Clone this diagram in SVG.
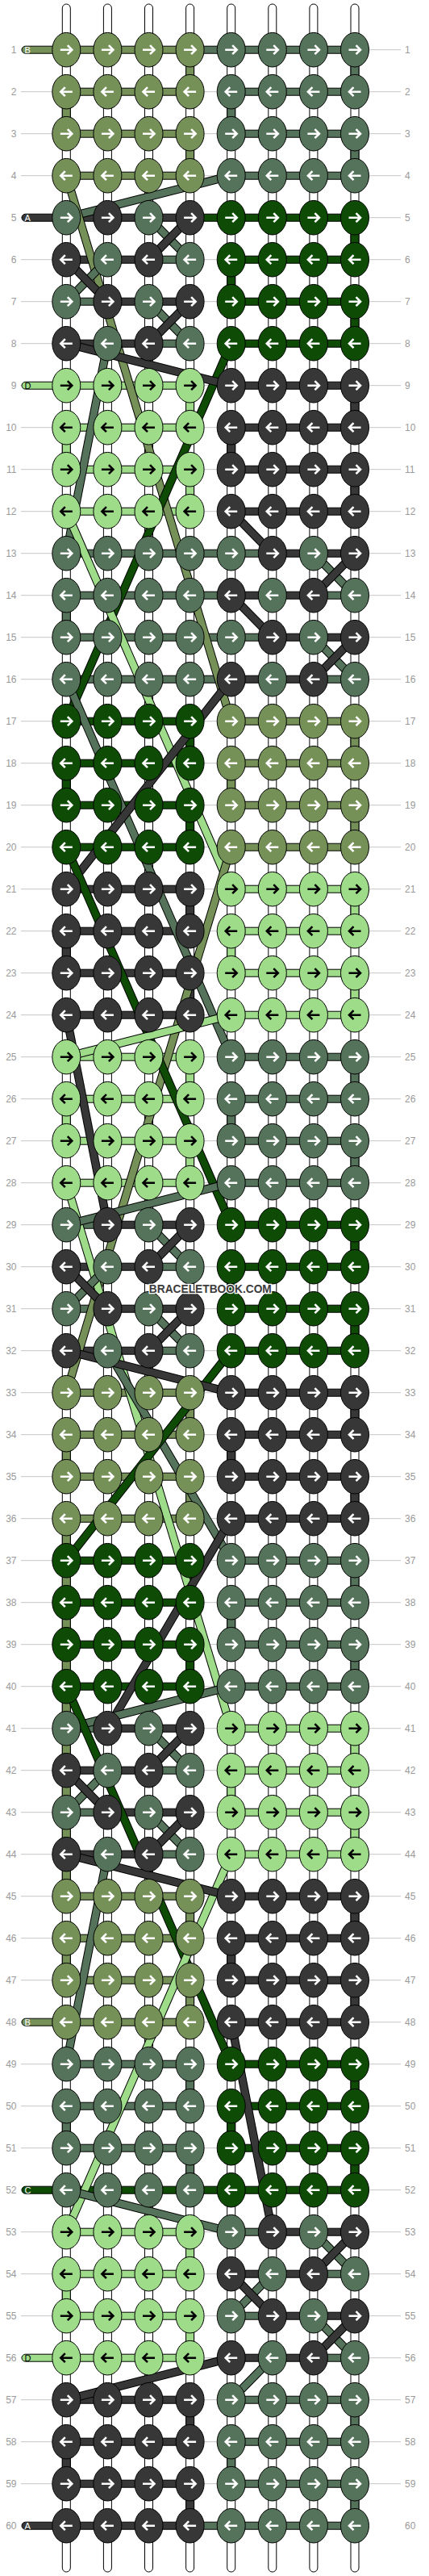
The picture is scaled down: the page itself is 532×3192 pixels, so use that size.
<svg xmlns="http://www.w3.org/2000/svg" width="532" height="3192" viewBox="0 0 532 3192">
<style>
.rl{fill:none;stroke:#c6c6c6;stroke-width:1}
.nl{font-family:"Liberation Sans",Arial,sans-serif;font-size:12px;fill:#9a9a9a;text-anchor:end}
.nr{font-family:"Liberation Sans",Arial,sans-serif;font-size:12px;fill:#9a9a9a;text-anchor:start}
.lab{font-family:"Liberation Sans",Arial,sans-serif;font-size:11px}
.st rect{fill:#fff;stroke:#000;stroke-width:1}
.sg rect{stroke:#000;stroke-width:1}
.o{fill:#769157}.g{fill:#55735a}.d{fill:#373737}.n{fill:#0e4c06}.l{fill:#9edc8a}
.x{fill:none;stroke:#000;stroke-width:10.5}
.xo{fill:none;stroke:#769157;stroke-width:8.5}
.xg{fill:none;stroke:#55735a;stroke-width:8.5}
.xd{fill:none;stroke:#373737;stroke-width:8.5}
.xn{fill:none;stroke:#0e4c06;stroke-width:8.5}
.xl{fill:none;stroke:#9edc8a;stroke-width:8.5}
.wm{font-family:"Liberation Sans",Arial,sans-serif;font-size:14.5px;font-weight:bold;fill:#3c3c3c;stroke:#fff;stroke-width:2.5;paint-order:stroke;text-anchor:middle}
</style>
<defs>
<g id="oR"><ellipse rx="17.5" ry="21.3" fill="#769157" stroke="#000"/><path d="M-7.5 0H6.5M1.5-5.5L7 0 1.5 5.5" fill="none" stroke="#fff" stroke-width="2.6"/></g>
<g id="oL"><ellipse rx="17.5" ry="21.3" fill="#769157" stroke="#000"/><path d="M7.5 0H-6.5M-1.5-5.5L-7 0-1.5 5.5" fill="none" stroke="#fff" stroke-width="2.6"/></g>
<g id="gR"><ellipse rx="17.5" ry="21.3" fill="#55735a" stroke="#000"/><path d="M-7.5 0H6.5M1.5-5.5L7 0 1.5 5.5" fill="none" stroke="#fff" stroke-width="2.6"/></g>
<g id="gL"><ellipse rx="17.5" ry="21.3" fill="#55735a" stroke="#000"/><path d="M7.5 0H-6.5M-1.5-5.5L-7 0-1.5 5.5" fill="none" stroke="#fff" stroke-width="2.6"/></g>
<g id="dR"><ellipse rx="17.5" ry="21.3" fill="#373737" stroke="#000"/><path d="M-7.5 0H6.5M1.5-5.5L7 0 1.5 5.5" fill="none" stroke="#fff" stroke-width="2.6"/></g>
<g id="dL"><ellipse rx="17.5" ry="21.3" fill="#373737" stroke="#000"/><path d="M7.5 0H-6.5M-1.5-5.5L-7 0-1.5 5.5" fill="none" stroke="#fff" stroke-width="2.6"/></g>
<g id="nR"><ellipse rx="17.5" ry="21.3" fill="#0e4c06" stroke="#000"/><path d="M-7.5 0H6.5M1.5-5.5L7 0 1.5 5.5" fill="none" stroke="#fff" stroke-width="2.6"/></g>
<g id="nL"><ellipse rx="17.5" ry="21.3" fill="#0e4c06" stroke="#000"/><path d="M7.5 0H-6.5M-1.5-5.5L-7 0-1.5 5.5" fill="none" stroke="#fff" stroke-width="2.6"/></g>
<g id="lR"><ellipse rx="17.5" ry="21.3" fill="#9edc8a" stroke="#000"/><path d="M-7.5 0H6.5M1.5-5.5L7 0 1.5 5.5" fill="none" stroke="#000" stroke-width="2.6"/></g>
<g id="lL"><ellipse rx="17.5" ry="21.3" fill="#9edc8a" stroke="#000"/><path d="M7.5 0H-6.5M-1.5-5.5L-7 0-1.5 5.5" fill="none" stroke="#000" stroke-width="2.6"/></g>
</defs>
<rect width="532" height="3192" fill="#fff"/>
<g id="guides"><path class="rl" d="M26 61.7H497m-471 52H497m-471 52H497m-471 52H497m-471 52H497m-471 52H497m-471 52H497m-471 52H497m-471 52H497m-471 52H497m-471 52H497m-471 52H497m-471 52H497m-471 52H497m-471 52H497m-471 52H497m-471 52H497m-471 52H497m-471 52H497m-471 52H497m-471 52H497m-471 52H497m-471 52H497m-471 52H497m-471 52H497m-471 52H497m-471 52H497m-471 52H497m-471 52H497m-471 52H497m-471 52H497m-471 52H497m-471 52H497m-471 52H497m-471 52H497m-471 52H497m-471 52H497m-471 52H497m-471 52H497m-471 52H497m-471 52H497m-471 52H497m-471 52H497m-471 52H497m-471 52H497m-471 52H497m-471 52H497m-471 52H497m-471 52H497m-471 52H497m-471 52H497m-471 52H497m-471 52H497m-471 52H497m-471 52H497m-471 52H497m-471 52H497m-471 52H497m-471 52H497"/></g>
<g id="connectors">
<g id="strands" class="st">
<rect x="77.3" y="5" width="10" height="3182" rx="5"/><rect x="128.4" y="5" width="10" height="3182" rx="5"/><rect x="179.5" y="5" width="10" height="3182" rx="5"/><rect x="230.6" y="5" width="10" height="3182" rx="5"/><rect x="281.7" y="5" width="10" height="3182" rx="5"/><rect x="332.8" y="5" width="10" height="3182" rx="5"/><rect x="383.9" y="5" width="10" height="3182" rx="5"/><rect x="435" y="5" width="10" height="3182" rx="5"/>
</g>
<g id="turns" class="sg">
<rect class="o" x="230.6" y="61.7" width="10" height="52"/><rect class="o" x="77.3" y="113.7" width="10" height="52"/><rect class="o" x="230.6" y="165.7" width="10" height="52"/>
<rect class="g" x="435" y="61.7" width="10" height="52"/><rect class="g" x="281.7" y="113.7" width="10" height="52"/><rect class="g" x="435" y="165.7" width="10" height="52"/>
<rect class="n" x="435" y="269.7" width="10" height="52"/><rect class="n" x="281.7" y="321.7" width="10" height="52"/><rect class="n" x="435" y="373.7" width="10" height="52"/>
<rect class="l" x="230.6" y="477.7" width="10" height="52"/><rect class="l" x="77.3" y="529.7" width="10" height="52"/><rect class="l" x="230.6" y="581.7" width="10" height="52"/>
<rect class="d" x="435" y="477.7" width="10" height="52"/><rect class="d" x="281.7" y="529.7" width="10" height="52"/><rect class="d" x="435" y="581.7" width="10" height="52"/>
<rect class="g" x="77.3" y="737.7" width="10" height="52"/>
<rect class="n" x="230.6" y="893.7" width="10" height="52"/><rect class="n" x="77.3" y="945.7" width="10" height="52"/><rect class="n" x="230.6" y="997.7" width="10" height="52"/>
<rect class="o" x="435" y="893.7" width="10" height="52"/><rect class="o" x="281.7" y="945.7" width="10" height="52"/><rect class="o" x="435" y="997.7" width="10" height="52"/>
<rect class="d" x="230.6" y="1101.7" width="10" height="52"/><rect class="d" x="77.3" y="1153.7" width="10" height="52"/><rect class="d" x="230.6" y="1205.7" width="10" height="52"/>
<rect class="l" x="435" y="1101.7" width="10" height="52"/><rect class="l" x="281.7" y="1153.7" width="10" height="52"/><rect class="l" x="435" y="1205.7" width="10" height="52"/>
<rect class="l" x="230.6" y="1309.7" width="10" height="52"/><rect class="l" x="77.3" y="1361.7" width="10" height="52"/><rect class="l" x="230.6" y="1413.7" width="10" height="52"/>
<rect class="g" x="435" y="1309.7" width="10" height="52"/><rect class="g" x="281.7" y="1361.7" width="10" height="52"/><rect class="g" x="435" y="1413.7" width="10" height="52"/>
<rect class="n" x="435" y="1517.7" width="10" height="52"/><rect class="n" x="281.7" y="1569.7" width="10" height="52"/><rect class="n" x="435" y="1621.7" width="10" height="52"/>
<rect class="o" x="230.6" y="1725.7" width="10" height="52"/><rect class="o" x="77.3" y="1777.7" width="10" height="52"/><rect class="o" x="230.6" y="1829.7" width="10" height="52"/>
<rect class="d" x="435" y="1725.7" width="10" height="52"/><rect class="d" x="281.7" y="1777.7" width="10" height="52"/><rect class="d" x="435" y="1829.7" width="10" height="52"/>
<rect class="o" x="77.3" y="1881.7" width="10" height="468"/>
<rect class="n" x="230.6" y="1933.7" width="10" height="52"/><rect class="n" x="230.6" y="2037.7" width="10" height="52"/>
<rect class="g" x="435" y="1933.7" width="10" height="52"/><rect class="g" x="281.7" y="1985.7" width="10" height="52"/><rect class="g" x="435" y="2037.7" width="10" height="52"/>
<rect class="l" x="435" y="2141.7" width="10" height="52"/><rect class="l" x="281.7" y="2193.7" width="10" height="52"/><rect class="l" x="435" y="2245.7" width="10" height="52"/>
<rect class="o" x="230.6" y="2349.7" width="10" height="52"/><rect class="o" x="77.3" y="2401.7" width="10" height="52"/><rect class="o" x="230.6" y="2453.7" width="10" height="52"/>
<rect class="d" x="435" y="2349.7" width="10" height="52"/><rect class="d" x="281.7" y="2401.7" width="10" height="52"/><rect class="d" x="435" y="2453.7" width="10" height="52"/>
<rect class="g" x="230.6" y="2557.7" width="10" height="52"/><rect class="g" x="77.3" y="2609.7" width="10" height="52"/><rect class="g" x="230.6" y="2661.7" width="10" height="52"/>
<rect class="n" x="435" y="2557.7" width="10" height="52"/><rect class="n" x="281.7" y="2609.7" width="10" height="52"/><rect class="n" x="435" y="2661.7" width="10" height="52"/>
<rect class="l" x="230.6" y="2765.7" width="10" height="52"/><rect class="l" x="77.3" y="2817.7" width="10" height="52"/><rect class="l" x="230.6" y="2869.7" width="10" height="52"/>
<rect class="d" x="230.6" y="2973.7" width="10" height="52"/><rect class="d" x="77.3" y="3025.7" width="10" height="52"/><rect class="d" x="230.6" y="3077.7" width="10" height="52"/>
<rect class="g" x="435" y="2973.7" width="10" height="52"/><rect class="g" x="281.7" y="3025.7" width="10" height="52"/><rect class="g" x="435" y="3077.7" width="10" height="52"/>
</g>
<g id="rowstrings" class="sg">
<rect class="o" x="27" y="57.2" width="208.6" height="9" rx="4.5"/><rect class="g" x="235.6" y="57.2" width="204.4" height="9"/>
<rect class="o" x="82.3" y="109.2" width="153.3" height="9"/><rect class="g" x="286.7" y="109.2" width="153.3" height="9"/>
<rect class="o" x="82.3" y="161.2" width="153.3" height="9"/><rect class="g" x="286.7" y="161.2" width="153.3" height="9"/>
<rect class="o" x="82.3" y="213.2" width="153.3" height="9"/><rect class="g" x="286.7" y="213.2" width="153.3" height="9"/>
<rect class="d" x="27" y="265.2" width="208.6" height="9" rx="4.5"/><rect class="n" x="235.6" y="265.2" width="204.4" height="9"/>
<rect class="d" x="82.3" y="317.2" width="102.2" height="9"/><rect class="g" x="184.5" y="317.2" width="51.1" height="9"/><rect class="n" x="286.7" y="317.2" width="153.3" height="9"/>
<rect class="g" x="82.3" y="369.2" width="51.1" height="9"/><rect class="d" x="133.4" y="369.2" width="102.2" height="9"/><rect class="n" x="286.7" y="369.2" width="153.3" height="9"/>
<rect class="d" x="82.3" y="421.2" width="102.2" height="9"/><rect class="g" x="184.5" y="421.2" width="51.1" height="9"/><rect class="n" x="286.7" y="421.2" width="153.3" height="9"/>
<rect class="l" x="27" y="473.2" width="208.6" height="9" rx="4.5"/><rect class="d" x="286.7" y="473.2" width="153.3" height="9"/>
<rect class="l" x="82.3" y="525.2" width="153.3" height="9"/><rect class="d" x="286.7" y="525.2" width="153.3" height="9"/>
<rect class="l" x="82.3" y="577.2" width="153.3" height="9"/><rect class="d" x="286.7" y="577.2" width="153.3" height="9"/>
<rect class="l" x="82.3" y="629.2" width="153.3" height="9"/><rect class="d" x="286.7" y="629.2" width="153.3" height="9"/>
<rect class="g" x="82.3" y="681.2" width="255.5" height="9"/><rect class="d" x="337.8" y="681.2" width="102.2" height="9"/>
<rect class="g" x="82.3" y="733.2" width="204.4" height="9"/><rect class="d" x="286.7" y="733.2" width="102.2" height="9"/><rect class="g" x="388.9" y="733.2" width="51.1" height="9"/>
<rect class="g" x="82.3" y="785.2" width="255.5" height="9"/><rect class="d" x="337.8" y="785.2" width="102.2" height="9"/>
<rect class="g" x="82.3" y="837.2" width="204.4" height="9"/><rect class="d" x="286.7" y="837.2" width="102.2" height="9"/><rect class="g" x="388.9" y="837.2" width="51.1" height="9"/>
<rect class="n" x="82.3" y="889.2" width="153.3" height="9"/><rect class="o" x="286.7" y="889.2" width="153.3" height="9"/>
<rect class="n" x="82.3" y="941.2" width="153.3" height="9"/><rect class="o" x="286.7" y="941.2" width="153.3" height="9"/>
<rect class="n" x="82.3" y="993.2" width="153.3" height="9"/><rect class="o" x="286.7" y="993.2" width="153.3" height="9"/>
<rect class="n" x="82.3" y="1045.2" width="153.3" height="9"/><rect class="o" x="286.7" y="1045.2" width="153.3" height="9"/>
<rect class="d" x="82.3" y="1097.2" width="153.3" height="9"/><rect class="l" x="286.7" y="1097.2" width="153.3" height="9"/>
<rect class="d" x="82.3" y="1149.2" width="153.3" height="9"/><rect class="l" x="286.7" y="1149.2" width="153.3" height="9"/>
<rect class="d" x="82.3" y="1201.2" width="153.3" height="9"/><rect class="l" x="286.7" y="1201.2" width="153.3" height="9"/>
<rect class="d" x="82.3" y="1253.2" width="153.3" height="9"/><rect class="l" x="286.7" y="1253.2" width="153.3" height="9"/>
<rect class="l" x="82.3" y="1305.2" width="153.3" height="9"/><rect class="g" x="286.7" y="1305.2" width="153.3" height="9"/>
<rect class="l" x="82.3" y="1357.2" width="153.3" height="9"/><rect class="g" x="286.7" y="1357.2" width="153.3" height="9"/>
<rect class="l" x="82.3" y="1409.2" width="153.3" height="9"/><rect class="g" x="286.7" y="1409.2" width="153.3" height="9"/>
<rect class="l" x="82.3" y="1461.2" width="153.3" height="9"/><rect class="g" x="286.7" y="1461.2" width="153.3" height="9"/>
<rect class="g" x="82.3" y="1513.2" width="51.1" height="9"/><rect class="d" x="133.4" y="1513.2" width="102.2" height="9"/><rect class="n" x="286.7" y="1513.2" width="153.3" height="9"/>
<rect class="d" x="82.3" y="1565.2" width="102.2" height="9"/><rect class="g" x="184.5" y="1565.2" width="51.1" height="9"/><rect class="n" x="286.7" y="1565.2" width="153.3" height="9"/>
<rect class="g" x="82.3" y="1617.2" width="51.1" height="9"/><rect class="d" x="133.4" y="1617.2" width="102.2" height="9"/><rect class="n" x="286.7" y="1617.2" width="153.3" height="9"/>
<rect class="d" x="82.3" y="1669.2" width="102.2" height="9"/><rect class="g" x="184.5" y="1669.2" width="51.1" height="9"/><rect class="n" x="286.7" y="1669.2" width="153.3" height="9"/>
<rect class="o" x="82.3" y="1721.2" width="153.3" height="9"/><rect class="d" x="286.7" y="1721.2" width="153.3" height="9"/>
<rect class="o" x="82.3" y="1773.2" width="153.3" height="9"/><rect class="d" x="286.7" y="1773.2" width="153.3" height="9"/>
<rect class="o" x="82.3" y="1825.2" width="153.3" height="9"/><rect class="d" x="286.7" y="1825.2" width="153.3" height="9"/>
<rect class="o" x="82.3" y="1877.2" width="153.3" height="9"/><rect class="d" x="286.7" y="1877.2" width="153.3" height="9"/>
<rect class="n" x="82.3" y="1929.2" width="153.3" height="9"/><rect class="g" x="286.7" y="1929.2" width="153.3" height="9"/>
<rect class="n" x="82.3" y="1981.2" width="153.3" height="9"/><rect class="g" x="286.7" y="1981.2" width="153.3" height="9"/>
<rect class="n" x="82.3" y="2033.2" width="153.3" height="9"/><rect class="g" x="286.7" y="2033.2" width="153.3" height="9"/>
<rect class="n" x="82.3" y="2085.2" width="153.3" height="9"/><rect class="g" x="286.7" y="2085.2" width="153.3" height="9"/>
<rect class="g" x="82.3" y="2137.2" width="51.1" height="9"/><rect class="d" x="133.4" y="2137.2" width="102.2" height="9"/><rect class="l" x="286.7" y="2137.2" width="153.3" height="9"/>
<rect class="d" x="82.3" y="2189.2" width="102.2" height="9"/><rect class="g" x="184.5" y="2189.2" width="51.1" height="9"/><rect class="l" x="286.7" y="2189.2" width="153.3" height="9"/>
<rect class="g" x="82.3" y="2241.2" width="51.1" height="9"/><rect class="d" x="133.4" y="2241.2" width="102.2" height="9"/><rect class="l" x="286.7" y="2241.2" width="153.3" height="9"/>
<rect class="d" x="82.3" y="2293.2" width="102.2" height="9"/><rect class="g" x="184.5" y="2293.2" width="51.1" height="9"/><rect class="l" x="286.7" y="2293.2" width="153.3" height="9"/>
<rect class="o" x="82.3" y="2345.2" width="153.3" height="9"/><rect class="d" x="286.7" y="2345.2" width="153.3" height="9"/>
<rect class="o" x="82.3" y="2397.2" width="153.3" height="9"/><rect class="d" x="286.7" y="2397.2" width="153.3" height="9"/>
<rect class="o" x="82.3" y="2449.2" width="153.3" height="9"/><rect class="d" x="286.7" y="2449.2" width="153.3" height="9"/>
<rect class="o" x="27" y="2501.2" width="208.6" height="9" rx="4.5"/><rect class="d" x="286.7" y="2501.2" width="153.3" height="9"/>
<rect class="g" x="82.3" y="2553.2" width="153.3" height="9"/><rect class="n" x="286.7" y="2553.2" width="153.3" height="9"/>
<rect class="g" x="82.3" y="2605.2" width="153.3" height="9"/><rect class="n" x="286.7" y="2605.2" width="153.3" height="9"/>
<rect class="g" x="82.3" y="2657.2" width="153.3" height="9"/><rect class="n" x="286.7" y="2657.2" width="153.3" height="9"/>
<rect class="n" x="27" y="2709.2" width="413" height="9" rx="4.5"/>
<rect class="l" x="82.3" y="2761.2" width="153.3" height="9"/><rect class="g" x="286.7" y="2761.2" width="51.1" height="9"/><rect class="d" x="337.8" y="2761.2" width="102.2" height="9"/>
<rect class="l" x="82.3" y="2813.2" width="153.3" height="9"/><rect class="d" x="286.7" y="2813.2" width="102.2" height="9"/><rect class="g" x="388.9" y="2813.2" width="51.1" height="9"/>
<rect class="l" x="82.3" y="2865.2" width="153.3" height="9"/><rect class="g" x="286.7" y="2865.2" width="51.1" height="9"/><rect class="d" x="337.8" y="2865.2" width="102.2" height="9"/>
<rect class="l" x="27" y="2917.2" width="208.6" height="9" rx="4.5"/><rect class="d" x="286.7" y="2917.2" width="102.2" height="9"/><rect class="g" x="388.9" y="2917.2" width="51.1" height="9"/>
<rect class="d" x="82.3" y="2969.2" width="153.3" height="9"/><rect class="g" x="286.7" y="2969.2" width="153.3" height="9"/>
<rect class="d" x="82.3" y="3021.2" width="153.3" height="9"/><rect class="g" x="286.7" y="3021.2" width="153.3" height="9"/>
<rect class="d" x="82.3" y="3073.2" width="153.3" height="9"/><rect class="g" x="286.7" y="3073.2" width="153.3" height="9"/>
<rect class="d" x="27" y="3125.2" width="208.6" height="9" rx="4.5"/><rect class="g" x="235.6" y="3125.2" width="204.4" height="9"/>
</g>
<g id="diagonals">
<path class="x" d="M286.7 217.7L82.3 269.7"/><path class="xg" d="M286.7 217.7L82.3 269.7"/>
<path class="x" d="M82.3 217.7L286.7 893.7"/><path class="xo" d="M82.3 217.7L286.7 893.7"/>
<path class="x" d="M184.5 269.7L235.6 321.7"/><path class="xg" d="M184.5 269.7L235.6 321.7"/>
<path class="x" d="M235.6 269.7L184.5 321.7"/><path class="xd" d="M235.6 269.7L184.5 321.7"/>
<path class="x" d="M133.4 321.7L82.3 373.7"/><path class="xg" d="M133.4 321.7L82.3 373.7"/>
<path class="x" d="M82.3 321.7L133.4 373.7"/><path class="xd" d="M82.3 321.7L133.4 373.7"/>
<path class="x" d="M184.5 373.7L235.6 425.7"/><path class="xg" d="M184.5 373.7L235.6 425.7"/>
<path class="x" d="M235.6 373.7L184.5 425.7"/><path class="xd" d="M235.6 373.7L184.5 425.7"/>
<path class="x" d="M133.4 425.7L82.3 685.7"/><path class="xg" d="M133.4 425.7L82.3 685.7"/>
<path class="x" d="M286.7 425.7L82.3 893.7"/><path class="xn" d="M286.7 425.7L82.3 893.7"/>
<path class="x" d="M82.3 425.7L286.7 477.7"/><path class="xd" d="M82.3 425.7L286.7 477.7"/>
<path class="x" d="M82.3 633.7L286.7 1101.7"/><path class="xl" d="M82.3 633.7L286.7 1101.7"/>
<path class="x" d="M286.7 633.7L337.8 685.7"/><path class="xd" d="M286.7 633.7L337.8 685.7"/>
<path class="x" d="M388.9 685.7L440 737.7"/><path class="xg" d="M388.9 685.7L440 737.7"/>
<path class="x" d="M440 685.7L388.9 737.7"/><path class="xd" d="M440 685.7L388.9 737.7"/>
<path class="x" d="M286.7 737.7L337.8 789.7"/><path class="xd" d="M286.7 737.7L337.8 789.7"/>
<path class="x" d="M388.9 789.7L440 841.7"/><path class="xg" d="M388.9 789.7L440 841.7"/>
<path class="x" d="M440 789.7L388.9 841.7"/><path class="xd" d="M440 789.7L388.9 841.7"/>
<path class="x" d="M82.3 841.7L286.7 1309.7"/><path class="xg" d="M82.3 841.7L286.7 1309.7"/>
<path class="x" d="M286.7 841.7L82.3 1101.7"/><path class="xd" d="M286.7 841.7L82.3 1101.7"/>
<path class="x" d="M286.7 1049.7L82.3 1725.7"/><path class="xo" d="M286.7 1049.7L82.3 1725.7"/>
<path class="x" d="M82.3 1049.7L286.7 1517.7"/><path class="xn" d="M82.3 1049.7L286.7 1517.7"/>
<path class="x" d="M286.7 1257.7L82.3 1309.7"/><path class="xl" d="M286.7 1257.7L82.3 1309.7"/>
<path class="x" d="M82.3 1257.7L133.4 1517.7"/><path class="xd" d="M82.3 1257.7L133.4 1517.7"/>
<path class="x" d="M82.3 1465.7L286.7 2141.7"/><path class="xl" d="M82.3 1465.7L286.7 2141.7"/>
<path class="x" d="M286.7 1465.7L82.3 1517.7"/><path class="xg" d="M286.7 1465.7L82.3 1517.7"/>
<path class="x" d="M184.5 1517.7L235.6 1569.7"/><path class="xg" d="M184.5 1517.7L235.6 1569.7"/>
<path class="x" d="M235.6 1517.7L184.5 1569.7"/><path class="xd" d="M235.6 1517.7L184.5 1569.7"/>
<path class="x" d="M133.4 1569.7L82.3 1621.7"/><path class="xg" d="M133.4 1569.7L82.3 1621.7"/>
<path class="x" d="M82.3 1569.7L133.4 1621.7"/><path class="xd" d="M82.3 1569.7L133.4 1621.7"/>
<path class="x" d="M184.5 1621.7L235.6 1673.7"/><path class="xg" d="M184.5 1621.7L235.6 1673.7"/>
<path class="x" d="M235.6 1621.7L184.5 1673.7"/><path class="xd" d="M235.6 1621.7L184.5 1673.7"/>
<path class="x" d="M133.4 1673.7L286.7 1933.7"/><path class="xg" d="M133.4 1673.7L286.7 1933.7"/>
<path class="x" d="M286.7 1673.7L82.3 1933.7"/><path class="xn" d="M286.7 1673.7L82.3 1933.7"/>
<path class="x" d="M82.3 1673.7L286.7 1725.7"/><path class="xd" d="M82.3 1673.7L286.7 1725.7"/>
<path class="x" d="M286.7 1881.7L133.4 2141.7"/><path class="xd" d="M286.7 1881.7L133.4 2141.7"/>
<path class="x" d="M286.7 2089.7L82.3 2141.7"/><path class="xg" d="M286.7 2089.7L82.3 2141.7"/>
<path class="x" d="M82.3 2089.7L286.7 2557.7"/><path class="xn" d="M82.3 2089.7L286.7 2557.7"/>
<path class="x" d="M184.5 2141.7L235.6 2193.7"/><path class="xg" d="M184.5 2141.7L235.6 2193.7"/>
<path class="x" d="M235.6 2141.7L184.5 2193.7"/><path class="xd" d="M235.6 2141.7L184.5 2193.7"/>
<path class="x" d="M133.4 2193.7L82.3 2245.7"/><path class="xg" d="M133.4 2193.7L82.3 2245.7"/>
<path class="x" d="M82.3 2193.7L133.4 2245.7"/><path class="xd" d="M82.3 2193.7L133.4 2245.7"/>
<path class="x" d="M184.5 2245.7L235.6 2297.7"/><path class="xg" d="M184.5 2245.7L235.6 2297.7"/>
<path class="x" d="M235.6 2245.7L184.5 2297.7"/><path class="xd" d="M235.6 2245.7L184.5 2297.7"/>
<path class="x" d="M133.4 2297.7L82.3 2557.7"/><path class="xg" d="M133.4 2297.7L82.3 2557.7"/>
<path class="x" d="M286.7 2297.7L82.3 2765.7"/><path class="xl" d="M286.7 2297.7L82.3 2765.7"/>
<path class="x" d="M82.3 2297.7L286.7 2349.7"/><path class="xd" d="M82.3 2297.7L286.7 2349.7"/>
<path class="x" d="M286.7 2505.7L337.8 2765.7"/><path class="xd" d="M286.7 2505.7L337.8 2765.7"/>
<path class="x" d="M82.3 2713.7L286.7 2765.7"/><path class="xg" d="M82.3 2713.7L286.7 2765.7"/>
<path class="x" d="M388.9 2765.7L440 2817.7"/><path class="xg" d="M388.9 2765.7L440 2817.7"/>
<path class="x" d="M440 2765.7L388.9 2817.7"/><path class="xd" d="M440 2765.7L388.9 2817.7"/>
<path class="x" d="M337.8 2817.7L286.7 2869.7"/><path class="xg" d="M337.8 2817.7L286.7 2869.7"/>
<path class="x" d="M286.7 2817.7L337.8 2869.7"/><path class="xd" d="M286.7 2817.7L337.8 2869.7"/>
<path class="x" d="M388.9 2869.7L440 2921.7"/><path class="xg" d="M388.9 2869.7L440 2921.7"/>
<path class="x" d="M440 2869.7L388.9 2921.7"/><path class="xd" d="M440 2869.7L388.9 2921.7"/>
<path class="x" d="M337.8 2921.7L286.7 2973.7"/><path class="xg" d="M337.8 2921.7L286.7 2973.7"/>
<path class="x" d="M286.7 2921.7L82.3 2973.7"/><path class="xd" d="M286.7 2921.7L82.3 2973.7"/>
</g>
</g>
<g id="knots">
<g id="row-1" transform="translate(0 61.7)"><use href="#oR" x="82.3"/><use href="#oR" x="133.4"/><use href="#oR" x="184.5"/><use href="#oR" x="235.6"/><use href="#gR" x="286.7"/><use href="#gR" x="337.8"/><use href="#gR" x="388.9"/><use href="#gR" x="440"/></g>
<g id="row-2" transform="translate(0 113.7)"><use href="#oL" x="82.3"/><use href="#oL" x="133.4"/><use href="#oL" x="184.5"/><use href="#oL" x="235.6"/><use href="#gL" x="286.7"/><use href="#gL" x="337.8"/><use href="#gL" x="388.9"/><use href="#gL" x="440"/></g>
<g id="row-3" transform="translate(0 165.7)"><use href="#oR" x="82.3"/><use href="#oR" x="133.4"/><use href="#oR" x="184.5"/><use href="#oR" x="235.6"/><use href="#gR" x="286.7"/><use href="#gR" x="337.8"/><use href="#gR" x="388.9"/><use href="#gR" x="440"/></g>
<g id="row-4" transform="translate(0 217.7)"><use href="#oL" x="82.3"/><use href="#oL" x="133.4"/><use href="#oL" x="184.5"/><use href="#oL" x="235.6"/><use href="#gL" x="286.7"/><use href="#gL" x="337.8"/><use href="#gL" x="388.9"/><use href="#gL" x="440"/></g>
<g id="row-5" transform="translate(0 269.7)"><use href="#gR" x="82.3"/><use href="#dR" x="133.4"/><use href="#gR" x="184.5"/><use href="#dR" x="235.6"/><use href="#nR" x="286.7"/><use href="#nR" x="337.8"/><use href="#nR" x="388.9"/><use href="#nR" x="440"/></g>
<g id="row-6" transform="translate(0 321.7)"><use href="#dL" x="82.3"/><use href="#gL" x="133.4"/><use href="#dL" x="184.5"/><use href="#gL" x="235.6"/><use href="#nL" x="286.7"/><use href="#nL" x="337.8"/><use href="#nL" x="388.9"/><use href="#nL" x="440"/></g>
<g id="row-7" transform="translate(0 373.7)"><use href="#gR" x="82.3"/><use href="#dR" x="133.4"/><use href="#gR" x="184.5"/><use href="#dR" x="235.6"/><use href="#nR" x="286.7"/><use href="#nR" x="337.8"/><use href="#nR" x="388.9"/><use href="#nR" x="440"/></g>
<g id="row-8" transform="translate(0 425.7)"><use href="#dL" x="82.3"/><use href="#gL" x="133.4"/><use href="#dL" x="184.5"/><use href="#gL" x="235.6"/><use href="#nL" x="286.7"/><use href="#nL" x="337.8"/><use href="#nL" x="388.9"/><use href="#nL" x="440"/></g>
<g id="row-9" transform="translate(0 477.7)"><use href="#lR" x="82.3"/><use href="#lR" x="133.4"/><use href="#lR" x="184.5"/><use href="#lR" x="235.6"/><use href="#dR" x="286.7"/><use href="#dR" x="337.8"/><use href="#dR" x="388.9"/><use href="#dR" x="440"/></g>
<g id="row-10" transform="translate(0 529.7)"><use href="#lL" x="82.3"/><use href="#lL" x="133.4"/><use href="#lL" x="184.5"/><use href="#lL" x="235.6"/><use href="#dL" x="286.7"/><use href="#dL" x="337.8"/><use href="#dL" x="388.9"/><use href="#dL" x="440"/></g>
<g id="row-11" transform="translate(0 581.7)"><use href="#lR" x="82.3"/><use href="#lR" x="133.4"/><use href="#lR" x="184.5"/><use href="#lR" x="235.6"/><use href="#dR" x="286.7"/><use href="#dR" x="337.8"/><use href="#dR" x="388.9"/><use href="#dR" x="440"/></g>
<g id="row-12" transform="translate(0 633.7)"><use href="#lL" x="82.3"/><use href="#lL" x="133.4"/><use href="#lL" x="184.5"/><use href="#lL" x="235.6"/><use href="#dL" x="286.7"/><use href="#dL" x="337.8"/><use href="#dL" x="388.9"/><use href="#dL" x="440"/></g>
<g id="row-13" transform="translate(0 685.7)"><use href="#gR" x="82.3"/><use href="#gR" x="133.4"/><use href="#gR" x="184.5"/><use href="#gR" x="235.6"/><use href="#gR" x="286.7"/><use href="#dR" x="337.8"/><use href="#gR" x="388.9"/><use href="#dR" x="440"/></g>
<g id="row-14" transform="translate(0 737.7)"><use href="#gL" x="82.3"/><use href="#gL" x="133.4"/><use href="#gL" x="184.5"/><use href="#gL" x="235.6"/><use href="#dL" x="286.7"/><use href="#gL" x="337.8"/><use href="#dL" x="388.9"/><use href="#gL" x="440"/></g>
<g id="row-15" transform="translate(0 789.7)"><use href="#gR" x="82.3"/><use href="#gR" x="133.4"/><use href="#gR" x="184.5"/><use href="#gR" x="235.6"/><use href="#gR" x="286.7"/><use href="#dR" x="337.8"/><use href="#gR" x="388.9"/><use href="#dR" x="440"/></g>
<g id="row-16" transform="translate(0 841.7)"><use href="#gL" x="82.3"/><use href="#gL" x="133.4"/><use href="#gL" x="184.5"/><use href="#gL" x="235.6"/><use href="#dL" x="286.7"/><use href="#gL" x="337.8"/><use href="#dL" x="388.9"/><use href="#gL" x="440"/></g>
<g id="row-17" transform="translate(0 893.7)"><use href="#nR" x="82.3"/><use href="#nR" x="133.4"/><use href="#nR" x="184.5"/><use href="#nR" x="235.6"/><use href="#oR" x="286.7"/><use href="#oR" x="337.8"/><use href="#oR" x="388.9"/><use href="#oR" x="440"/></g>
<g id="row-18" transform="translate(0 945.7)"><use href="#nL" x="82.3"/><use href="#nL" x="133.4"/><use href="#nL" x="184.5"/><use href="#nL" x="235.6"/><use href="#oL" x="286.7"/><use href="#oL" x="337.8"/><use href="#oL" x="388.9"/><use href="#oL" x="440"/></g>
<g id="row-19" transform="translate(0 997.7)"><use href="#nR" x="82.3"/><use href="#nR" x="133.4"/><use href="#nR" x="184.5"/><use href="#nR" x="235.6"/><use href="#oR" x="286.7"/><use href="#oR" x="337.8"/><use href="#oR" x="388.9"/><use href="#oR" x="440"/></g>
<g id="row-20" transform="translate(0 1049.7)"><use href="#nL" x="82.3"/><use href="#nL" x="133.4"/><use href="#nL" x="184.5"/><use href="#nL" x="235.6"/><use href="#oL" x="286.7"/><use href="#oL" x="337.8"/><use href="#oL" x="388.9"/><use href="#oL" x="440"/></g>
<g id="row-21" transform="translate(0 1101.7)"><use href="#dR" x="82.3"/><use href="#dR" x="133.4"/><use href="#dR" x="184.5"/><use href="#dR" x="235.6"/><use href="#lR" x="286.7"/><use href="#lR" x="337.8"/><use href="#lR" x="388.9"/><use href="#lR" x="440"/></g>
<g id="row-22" transform="translate(0 1153.7)"><use href="#dL" x="82.3"/><use href="#dL" x="133.4"/><use href="#dL" x="184.5"/><use href="#dL" x="235.6"/><use href="#lL" x="286.7"/><use href="#lL" x="337.8"/><use href="#lL" x="388.9"/><use href="#lL" x="440"/></g>
<g id="row-23" transform="translate(0 1205.7)"><use href="#dR" x="82.3"/><use href="#dR" x="133.4"/><use href="#dR" x="184.5"/><use href="#dR" x="235.6"/><use href="#lR" x="286.7"/><use href="#lR" x="337.8"/><use href="#lR" x="388.9"/><use href="#lR" x="440"/></g>
<g id="row-24" transform="translate(0 1257.7)"><use href="#dL" x="82.3"/><use href="#dL" x="133.4"/><use href="#dL" x="184.5"/><use href="#dL" x="235.6"/><use href="#lL" x="286.7"/><use href="#lL" x="337.8"/><use href="#lL" x="388.9"/><use href="#lL" x="440"/></g>
<g id="row-25" transform="translate(0 1309.7)"><use href="#lR" x="82.3"/><use href="#lR" x="133.4"/><use href="#lR" x="184.5"/><use href="#lR" x="235.6"/><use href="#gR" x="286.7"/><use href="#gR" x="337.8"/><use href="#gR" x="388.9"/><use href="#gR" x="440"/></g>
<g id="row-26" transform="translate(0 1361.7)"><use href="#lL" x="82.3"/><use href="#lL" x="133.4"/><use href="#lL" x="184.5"/><use href="#lL" x="235.6"/><use href="#gL" x="286.7"/><use href="#gL" x="337.8"/><use href="#gL" x="388.9"/><use href="#gL" x="440"/></g>
<g id="row-27" transform="translate(0 1413.7)"><use href="#lR" x="82.3"/><use href="#lR" x="133.4"/><use href="#lR" x="184.5"/><use href="#lR" x="235.6"/><use href="#gR" x="286.7"/><use href="#gR" x="337.8"/><use href="#gR" x="388.9"/><use href="#gR" x="440"/></g>
<g id="row-28" transform="translate(0 1465.7)"><use href="#lL" x="82.3"/><use href="#lL" x="133.4"/><use href="#lL" x="184.5"/><use href="#lL" x="235.6"/><use href="#gL" x="286.7"/><use href="#gL" x="337.8"/><use href="#gL" x="388.9"/><use href="#gL" x="440"/></g>
<g id="row-29" transform="translate(0 1517.7)"><use href="#gR" x="82.3"/><use href="#dR" x="133.4"/><use href="#gR" x="184.5"/><use href="#dR" x="235.6"/><use href="#nR" x="286.7"/><use href="#nR" x="337.8"/><use href="#nR" x="388.9"/><use href="#nR" x="440"/></g>
<g id="row-30" transform="translate(0 1569.7)"><use href="#dL" x="82.3"/><use href="#gL" x="133.4"/><use href="#dL" x="184.5"/><use href="#gL" x="235.6"/><use href="#nL" x="286.7"/><use href="#nL" x="337.8"/><use href="#nL" x="388.9"/><use href="#nL" x="440"/></g>
<g id="row-31" transform="translate(0 1621.7)"><use href="#gR" x="82.3"/><use href="#dR" x="133.4"/><use href="#gR" x="184.5"/><use href="#dR" x="235.6"/><use href="#nR" x="286.7"/><use href="#nR" x="337.8"/><use href="#nR" x="388.9"/><use href="#nR" x="440"/></g>
<g id="row-32" transform="translate(0 1673.7)"><use href="#dL" x="82.3"/><use href="#gL" x="133.4"/><use href="#dL" x="184.5"/><use href="#gL" x="235.6"/><use href="#nL" x="286.7"/><use href="#nL" x="337.8"/><use href="#nL" x="388.9"/><use href="#nL" x="440"/></g>
<g id="row-33" transform="translate(0 1725.7)"><use href="#oR" x="82.3"/><use href="#oR" x="133.4"/><use href="#oR" x="184.5"/><use href="#oR" x="235.6"/><use href="#dR" x="286.7"/><use href="#dR" x="337.8"/><use href="#dR" x="388.9"/><use href="#dR" x="440"/></g>
<g id="row-34" transform="translate(0 1777.7)"><use href="#oL" x="82.3"/><use href="#oL" x="133.4"/><use href="#oL" x="184.5"/><use href="#oL" x="235.6"/><use href="#dL" x="286.7"/><use href="#dL" x="337.8"/><use href="#dL" x="388.9"/><use href="#dL" x="440"/></g>
<g id="row-35" transform="translate(0 1829.7)"><use href="#oR" x="82.3"/><use href="#oR" x="133.4"/><use href="#oR" x="184.5"/><use href="#oR" x="235.6"/><use href="#dR" x="286.7"/><use href="#dR" x="337.8"/><use href="#dR" x="388.9"/><use href="#dR" x="440"/></g>
<g id="row-36" transform="translate(0 1881.7)"><use href="#oL" x="82.3"/><use href="#oL" x="133.4"/><use href="#oL" x="184.5"/><use href="#oL" x="235.6"/><use href="#dL" x="286.7"/><use href="#dL" x="337.8"/><use href="#dL" x="388.9"/><use href="#dL" x="440"/></g>
<g id="row-37" transform="translate(0 1933.7)"><use href="#nR" x="82.3"/><use href="#nR" x="133.4"/><use href="#nR" x="184.5"/><use href="#nR" x="235.6"/><use href="#gR" x="286.7"/><use href="#gR" x="337.8"/><use href="#gR" x="388.9"/><use href="#gR" x="440"/></g>
<g id="row-38" transform="translate(0 1985.7)"><use href="#nL" x="82.3"/><use href="#nL" x="133.4"/><use href="#nL" x="184.5"/><use href="#nL" x="235.6"/><use href="#gL" x="286.7"/><use href="#gL" x="337.8"/><use href="#gL" x="388.9"/><use href="#gL" x="440"/></g>
<g id="row-39" transform="translate(0 2037.7)"><use href="#nR" x="82.3"/><use href="#nR" x="133.4"/><use href="#nR" x="184.5"/><use href="#nR" x="235.6"/><use href="#gR" x="286.7"/><use href="#gR" x="337.8"/><use href="#gR" x="388.9"/><use href="#gR" x="440"/></g>
<g id="row-40" transform="translate(0 2089.7)"><use href="#nL" x="82.3"/><use href="#nL" x="133.4"/><use href="#nL" x="184.5"/><use href="#nL" x="235.6"/><use href="#gL" x="286.7"/><use href="#gL" x="337.8"/><use href="#gL" x="388.9"/><use href="#gL" x="440"/></g>
<g id="row-41" transform="translate(0 2141.7)"><use href="#gR" x="82.3"/><use href="#dR" x="133.4"/><use href="#gR" x="184.5"/><use href="#dR" x="235.6"/><use href="#lR" x="286.7"/><use href="#lR" x="337.8"/><use href="#lR" x="388.9"/><use href="#lR" x="440"/></g>
<g id="row-42" transform="translate(0 2193.7)"><use href="#dL" x="82.3"/><use href="#gL" x="133.4"/><use href="#dL" x="184.5"/><use href="#gL" x="235.6"/><use href="#lL" x="286.7"/><use href="#lL" x="337.8"/><use href="#lL" x="388.9"/><use href="#lL" x="440"/></g>
<g id="row-43" transform="translate(0 2245.7)"><use href="#gR" x="82.3"/><use href="#dR" x="133.4"/><use href="#gR" x="184.5"/><use href="#dR" x="235.6"/><use href="#lR" x="286.7"/><use href="#lR" x="337.8"/><use href="#lR" x="388.9"/><use href="#lR" x="440"/></g>
<g id="row-44" transform="translate(0 2297.7)"><use href="#dL" x="82.3"/><use href="#gL" x="133.4"/><use href="#dL" x="184.5"/><use href="#gL" x="235.6"/><use href="#lL" x="286.7"/><use href="#lL" x="337.8"/><use href="#lL" x="388.9"/><use href="#lL" x="440"/></g>
<g id="row-45" transform="translate(0 2349.7)"><use href="#oR" x="82.3"/><use href="#oR" x="133.4"/><use href="#oR" x="184.5"/><use href="#oR" x="235.6"/><use href="#dR" x="286.7"/><use href="#dR" x="337.8"/><use href="#dR" x="388.9"/><use href="#dR" x="440"/></g>
<g id="row-46" transform="translate(0 2401.7)"><use href="#oL" x="82.3"/><use href="#oL" x="133.4"/><use href="#oL" x="184.5"/><use href="#oL" x="235.6"/><use href="#dL" x="286.7"/><use href="#dL" x="337.8"/><use href="#dL" x="388.9"/><use href="#dL" x="440"/></g>
<g id="row-47" transform="translate(0 2453.7)"><use href="#oR" x="82.3"/><use href="#oR" x="133.4"/><use href="#oR" x="184.5"/><use href="#oR" x="235.6"/><use href="#dR" x="286.7"/><use href="#dR" x="337.8"/><use href="#dR" x="388.9"/><use href="#dR" x="440"/></g>
<g id="row-48" transform="translate(0 2505.7)"><use href="#oL" x="82.3"/><use href="#oL" x="133.4"/><use href="#oL" x="184.5"/><use href="#oL" x="235.6"/><use href="#dL" x="286.7"/><use href="#dL" x="337.8"/><use href="#dL" x="388.9"/><use href="#dL" x="440"/></g>
<g id="row-49" transform="translate(0 2557.7)"><use href="#gR" x="82.3"/><use href="#gR" x="133.4"/><use href="#gR" x="184.5"/><use href="#gR" x="235.6"/><use href="#nR" x="286.7"/><use href="#nR" x="337.8"/><use href="#nR" x="388.9"/><use href="#nR" x="440"/></g>
<g id="row-50" transform="translate(0 2609.7)"><use href="#gL" x="82.3"/><use href="#gL" x="133.4"/><use href="#gL" x="184.5"/><use href="#gL" x="235.6"/><use href="#nL" x="286.7"/><use href="#nL" x="337.8"/><use href="#nL" x="388.9"/><use href="#nL" x="440"/></g>
<g id="row-51" transform="translate(0 2661.7)"><use href="#gR" x="82.3"/><use href="#gR" x="133.4"/><use href="#gR" x="184.5"/><use href="#gR" x="235.6"/><use href="#nR" x="286.7"/><use href="#nR" x="337.8"/><use href="#nR" x="388.9"/><use href="#nR" x="440"/></g>
<g id="row-52" transform="translate(0 2713.7)"><use href="#gL" x="82.3"/><use href="#gL" x="133.4"/><use href="#gL" x="184.5"/><use href="#gL" x="235.6"/><use href="#nL" x="286.7"/><use href="#nL" x="337.8"/><use href="#nL" x="388.9"/><use href="#nL" x="440"/></g>
<g id="row-53" transform="translate(0 2765.7)"><use href="#lR" x="82.3"/><use href="#lR" x="133.4"/><use href="#lR" x="184.5"/><use href="#lR" x="235.6"/><use href="#gR" x="286.7"/><use href="#dR" x="337.8"/><use href="#gR" x="388.9"/><use href="#dR" x="440"/></g>
<g id="row-54" transform="translate(0 2817.7)"><use href="#lL" x="82.3"/><use href="#lL" x="133.4"/><use href="#lL" x="184.5"/><use href="#lL" x="235.6"/><use href="#dL" x="286.7"/><use href="#gL" x="337.8"/><use href="#dL" x="388.9"/><use href="#gL" x="440"/></g>
<g id="row-55" transform="translate(0 2869.7)"><use href="#lR" x="82.3"/><use href="#lR" x="133.4"/><use href="#lR" x="184.5"/><use href="#lR" x="235.6"/><use href="#gR" x="286.7"/><use href="#dR" x="337.8"/><use href="#gR" x="388.9"/><use href="#dR" x="440"/></g>
<g id="row-56" transform="translate(0 2921.7)"><use href="#lL" x="82.3"/><use href="#lL" x="133.4"/><use href="#lL" x="184.5"/><use href="#lL" x="235.6"/><use href="#dL" x="286.7"/><use href="#gL" x="337.8"/><use href="#dL" x="388.9"/><use href="#gL" x="440"/></g>
<g id="row-57" transform="translate(0 2973.7)"><use href="#dR" x="82.3"/><use href="#dR" x="133.4"/><use href="#dR" x="184.5"/><use href="#dR" x="235.6"/><use href="#gR" x="286.7"/><use href="#gR" x="337.8"/><use href="#gR" x="388.9"/><use href="#gR" x="440"/></g>
<g id="row-58" transform="translate(0 3025.7)"><use href="#dL" x="82.3"/><use href="#dL" x="133.4"/><use href="#dL" x="184.5"/><use href="#dL" x="235.6"/><use href="#gL" x="286.7"/><use href="#gL" x="337.8"/><use href="#gL" x="388.9"/><use href="#gL" x="440"/></g>
<g id="row-59" transform="translate(0 3077.7)"><use href="#dR" x="82.3"/><use href="#dR" x="133.4"/><use href="#dR" x="184.5"/><use href="#dR" x="235.6"/><use href="#gR" x="286.7"/><use href="#gR" x="337.8"/><use href="#gR" x="388.9"/><use href="#gR" x="440"/></g>
<g id="row-60" transform="translate(0 3129.7)"><use href="#dL" x="82.3"/><use href="#dL" x="133.4"/><use href="#dL" x="184.5"/><use href="#dL" x="235.6"/><use href="#gL" x="286.7"/><use href="#gL" x="337.8"/><use href="#gL" x="388.9"/><use href="#gL" x="440"/></g>
</g>
<g id="string-labels" class="lab">
<text x="30.5" y="65.7" fill="#fff">B</text>
<text x="30.5" y="273.7" fill="#fff">A</text>
<text x="30.5" y="481.7" fill="#000">D</text>
<text x="30.5" y="2509.7" fill="#fff">B</text>
<text x="30.5" y="2717.7" fill="#fff">C</text>
<text x="30.5" y="2925.7" fill="#000">D</text>
<text x="30.5" y="3133.7" fill="#fff">A</text>
</g>
<g id="row-numbers-left" class="nl">
<text x="20.5" y="66">1</text><text x="20.5" y="118">2</text><text x="20.5" y="170">3</text><text x="20.5" y="222">4</text><text x="20.5" y="274">5</text><text x="20.5" y="326">6</text><text x="20.5" y="378">7</text><text x="20.5" y="430">8</text><text x="20.5" y="482">9</text><text x="20.5" y="534">10</text>
<text x="20.5" y="586">11</text><text x="20.5" y="638">12</text><text x="20.5" y="690">13</text><text x="20.5" y="742">14</text><text x="20.5" y="794">15</text><text x="20.5" y="846">16</text><text x="20.5" y="898">17</text><text x="20.5" y="950">18</text><text x="20.5" y="1002">19</text><text x="20.5" y="1054">20</text>
<text x="20.5" y="1106">21</text><text x="20.5" y="1158">22</text><text x="20.5" y="1210">23</text><text x="20.5" y="1262">24</text><text x="20.5" y="1314">25</text><text x="20.5" y="1366">26</text><text x="20.5" y="1418">27</text><text x="20.5" y="1470">28</text><text x="20.5" y="1522">29</text><text x="20.5" y="1574">30</text>
<text x="20.5" y="1626">31</text><text x="20.5" y="1678">32</text><text x="20.5" y="1730">33</text><text x="20.5" y="1782">34</text><text x="20.5" y="1834">35</text><text x="20.5" y="1886">36</text><text x="20.5" y="1938">37</text><text x="20.5" y="1990">38</text><text x="20.5" y="2042">39</text><text x="20.5" y="2094">40</text>
<text x="20.5" y="2146">41</text><text x="20.5" y="2198">42</text><text x="20.5" y="2250">43</text><text x="20.5" y="2302">44</text><text x="20.5" y="2354">45</text><text x="20.5" y="2406">46</text><text x="20.5" y="2458">47</text><text x="20.5" y="2510">48</text><text x="20.5" y="2562">49</text><text x="20.5" y="2614">50</text>
<text x="20.5" y="2666">51</text><text x="20.5" y="2718">52</text><text x="20.5" y="2770">53</text><text x="20.5" y="2822">54</text><text x="20.5" y="2874">55</text><text x="20.5" y="2926">56</text><text x="20.5" y="2978">57</text><text x="20.5" y="3030">58</text><text x="20.5" y="3082">59</text><text x="20.5" y="3134">60</text>
</g>
<g id="row-numbers-right" class="nr">
<text x="502" y="66">1</text><text x="502" y="118">2</text><text x="502" y="170">3</text><text x="502" y="222">4</text><text x="502" y="274">5</text><text x="502" y="326">6</text><text x="502" y="378">7</text><text x="502" y="430">8</text><text x="502" y="482">9</text><text x="502" y="534">10</text>
<text x="502" y="586">11</text><text x="502" y="638">12</text><text x="502" y="690">13</text><text x="502" y="742">14</text><text x="502" y="794">15</text><text x="502" y="846">16</text><text x="502" y="898">17</text><text x="502" y="950">18</text><text x="502" y="1002">19</text><text x="502" y="1054">20</text>
<text x="502" y="1106">21</text><text x="502" y="1158">22</text><text x="502" y="1210">23</text><text x="502" y="1262">24</text><text x="502" y="1314">25</text><text x="502" y="1366">26</text><text x="502" y="1418">27</text><text x="502" y="1470">28</text><text x="502" y="1522">29</text><text x="502" y="1574">30</text>
<text x="502" y="1626">31</text><text x="502" y="1678">32</text><text x="502" y="1730">33</text><text x="502" y="1782">34</text><text x="502" y="1834">35</text><text x="502" y="1886">36</text><text x="502" y="1938">37</text><text x="502" y="1990">38</text><text x="502" y="2042">39</text><text x="502" y="2094">40</text>
<text x="502" y="2146">41</text><text x="502" y="2198">42</text><text x="502" y="2250">43</text><text x="502" y="2302">44</text><text x="502" y="2354">45</text><text x="502" y="2406">46</text><text x="502" y="2458">47</text><text x="502" y="2510">48</text><text x="502" y="2562">49</text><text x="502" y="2614">50</text>
<text x="502" y="2666">51</text><text x="502" y="2718">52</text><text x="502" y="2770">53</text><text x="502" y="2822">54</text><text x="502" y="2874">55</text><text x="502" y="2926">56</text><text x="502" y="2978">57</text><text x="502" y="3030">58</text><text x="502" y="3082">59</text><text x="502" y="3134">60</text>
</g>
<text id="watermark" class="wm" x="260.8" y="1601.5" textLength="152" lengthAdjust="spacingAndGlyphs">BRACELETBOOK.COM</text>
</svg>
